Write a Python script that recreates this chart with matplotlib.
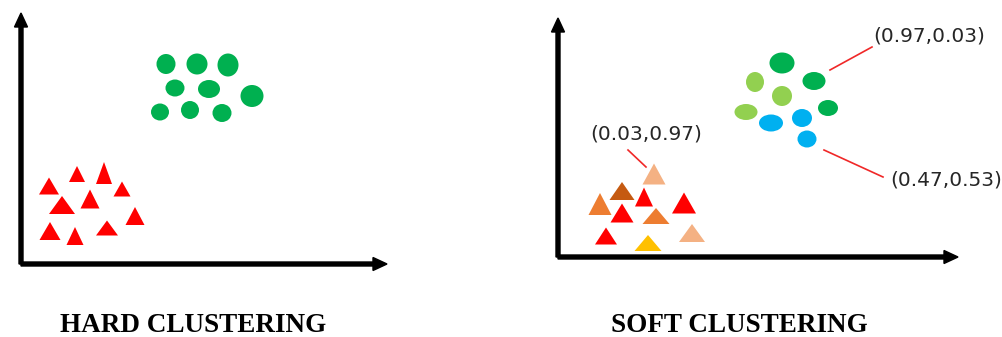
import matplotlib
matplotlib.use("Agg")
import matplotlib.pyplot as plt
from matplotlib.patches import Ellipse, Polygon

# colours (Office palette)
GREEN = "#00B050"
LGREEN = "#92D050"
BLUE = "#00B0F0"
RED = "#FF0000"
ORANGE = "#ED7D31"
BROWN = "#C55A11"
PEACH = "#F4B183"
GOLD = "#FFC000"

# hard clustering: circles (x, y, width, height) and triangles
hard_circ_x = [166, 197, 228, 175, 209, 252, 160, 190, 222]
hard_circ_y = [64, 64, 65, 88, 89, 96, 112, 110, 113]
hard_circ_w = [19, 21, 21, 19, 22, 23, 18, 18, 19]
hard_circ_h = [20, 21, 23, 17, 18, 22, 17, 18, 18]

hard_tri_x = [49, 77, 104, 122, 62, 90, 135, 50, 75, 107]
hard_tri_y = [186, 174, 173, 189, 205, 199, 216, 231, 236, 228]
hard_tri_w = [20, 16, 16, 17, 26, 19, 19, 21, 17, 22]
hard_tri_h = [17, 16, 22, 15, 18, 19, 18, 18, 18, 15]

# soft clustering
soft_circ_x = [782, 814, 755, 782, 828, 746, 771, 802, 807]
soft_circ_y = [63, 81, 82, 96, 108, 112, 123, 118, 139]
soft_circ_w = [25, 23, 18, 20, 20, 23, 24, 20, 19]
soft_circ_h = [21, 18, 20, 20, 16, 16, 17, 18, 17]
soft_circ_c = [GREEN, GREEN, LGREEN, LGREEN, GREEN, LGREEN, BLUE, BLUE, BLUE]

soft_tri_x = [654, 622, 644, 600, 684, 622, 656, 606, 648, 692]
soft_tri_y = [174, 191, 197, 204, 203, 213, 216, 236, 243, 233]
soft_tri_w = [23, 25, 18, 23, 24, 23, 27, 22, 27, 26]
soft_tri_h = [21, 18, 19, 22, 21, 19, 16, 17, 16, 18]
soft_tri_c = [PEACH, BROWN, RED, ORANGE, RED, RED, ORANGE, RED, GOLD, PEACH]

# membership labels and their leader lines
labels = ["(0.97,0.03)", "(0.03,0.97)", "(0.47,0.53)"]
label_x = [873, 590, 890]
label_y = [36, 134, 180]
lead_x0 = [830, 628, 824]
lead_y0 = [70, 150, 150]
lead_x1 = [872, 646, 883]
lead_y1 = [47, 167, 177]

titles = ["HARD CLUSTERING", "SOFT CLUSTERING"]
title_x = [193, 739]
title_y = [326, 326]

# axis frames: origin, x tip, y tip
frame_ox = [21, 558]
frame_oy = [264, 257]
frame_xend = [387, 958]
frame_yend = [13, 18]

fig = plt.figure(figsize=(10.03, 3.37), dpi=100)
ax = fig.add_axes([0, 0, 1, 1])
ax.set_xlim(0, 1003)
ax.set_ylim(337, 0)
ax.axis("off")

for ox, oy, xe, ye in zip(frame_ox, frame_oy, frame_xend, frame_yend):
    ax.arrow(ox, oy, xe - ox, 0, width=4, head_width=13, head_length=14,
             length_includes_head=True, color="black")
    ax.arrow(ox, oy, 0, ye - oy, width=4, head_width=13, head_length=14,
             length_includes_head=True, color="black")


def draw_circles(xs, ys, ws, hs, cs):
    for x, y, w, h, c in zip(xs, ys, ws, hs, cs):
        ax.add_patch(Ellipse((x, y), w, h, color=c, lw=0))


def draw_triangles(xs, ys, ws, hs, cs):
    for x, y, w, h, c in zip(xs, ys, ws, hs, cs):
        pts = [(x, y - h / 2), (x - w / 2, y + h / 2), (x + w / 2, y + h / 2)]
        ax.add_patch(Polygon(pts, closed=True, color=c, lw=0))


draw_circles(hard_circ_x, hard_circ_y, hard_circ_w, hard_circ_h, [GREEN] * 9)
draw_triangles(hard_tri_x, hard_tri_y, hard_tri_w, hard_tri_h, [RED] * 10)
draw_circles(soft_circ_x, soft_circ_y, soft_circ_w, soft_circ_h, soft_circ_c)
draw_triangles(soft_tri_x, soft_tri_y, soft_tri_w, soft_tri_h, soft_tri_c)

for x0, y0, x1, y1 in zip(lead_x0, lead_y0, lead_x1, lead_y1):
    ax.plot([x0, x1], [y0, y1], color="#F02828", lw=1.2)

for t, x, y in zip(labels, label_x, label_y):
    ax.text(x, y, t, fontsize=14.5, family="DejaVu Sans", color="#262626",
            ha="left", va="center")

for t, x, y in zip(titles, title_x, title_y):
    ax.text(x, y, t, fontsize=19.5, family="Liberation Serif", weight="bold",
            ha="center", va="center")

fig.savefig("out.png", dpi=100)
